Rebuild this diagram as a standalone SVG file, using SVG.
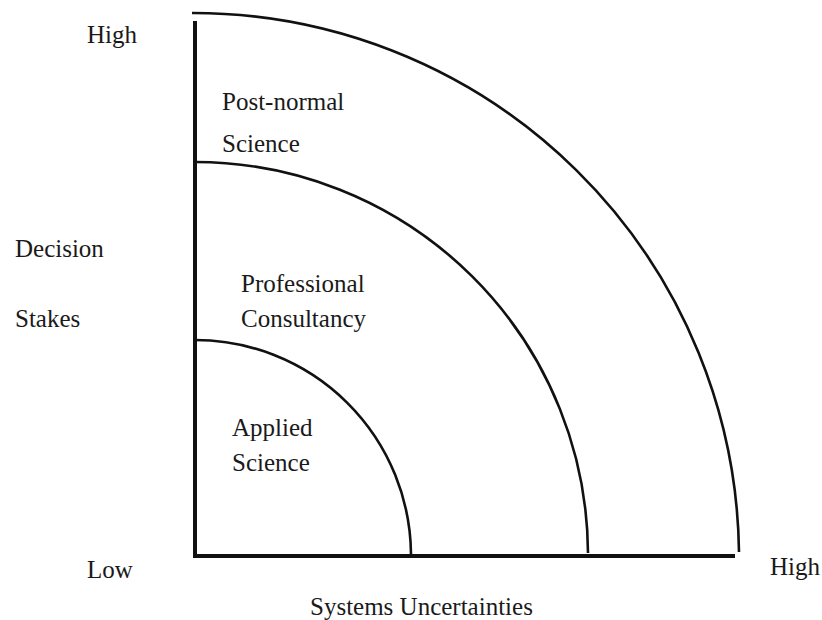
<svg xmlns="http://www.w3.org/2000/svg" width="822" height="620" viewBox="0 0 822 620">
<style>
text{font-family:"Liberation Serif","Times New Roman",serif;font-size:25px;fill:#1a1a1a}
.axis{stroke:#111;stroke-width:4;fill:none}
.arc{stroke:#111;stroke-width:2.6;fill:none}
</style>
<rect width="822" height="620" fill="#fff"/>
<g id="connectors">
<line class="axis" x1="195" y1="21" x2="195" y2="556"/>
<line class="axis" x1="193" y1="556" x2="735" y2="556"/>
</g>
<g id="outer-region">
<path class="arc" d="M192 13 A546 546 0 0 1 739 552"/>
<text x="222" y="110">Post-normal</text>
<text x="222" y="152">Science</text>
</g>
<g id="middle-region">
<path class="arc" d="M195 162 A393 393 0 0 1 588 553"/>
<text x="241" y="292">Professional</text>
<text x="241" y="327">Consultancy</text>
</g>
<g id="inner-region">
<path class="arc" d="M195 340 A216 216 0 0 1 411 554"/>
<text x="232" y="436">Applied</text>
<text x="232" y="471">Science</text>
</g>
<g id="labels">
<text x="87" y="43">High</text>
<text x="15" y="257">Decision</text>
<text x="15" y="327">Stakes</text>
<text x="87" y="578">Low</text>
<text x="770" y="575">High</text>
<text x="310" y="615">Systems Uncertainties</text>
</g>
</svg>
